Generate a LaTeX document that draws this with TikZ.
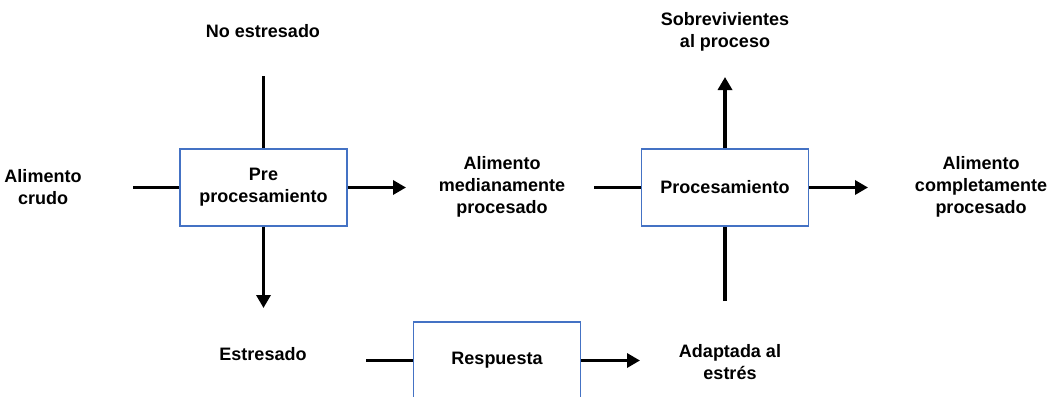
\documentclass[tikz,border=0pt]{standalone}
\usepackage{fontspec}
\setmainfont{Liberation Sans}
\usetikzlibrary{positioning,arrows.meta}
\definecolor{boxblue}{RGB}{68,114,196}

\begin{document}
\begin{tikzpicture}[x=1pt,y=-1pt,
    box/.style={draw=boxblue,line width=1.3pt,minimum width=167pt,minimum height=77pt,inner sep=2pt,align=center,font=\fontsize{18}{22}\selectfont\bfseries},
    lbl/.style={align=center,inner sep=1pt,font=\fontsize{18}{22}\selectfont\bfseries},
    flow/.style={line width=3.8pt},
    arr/.style={flow,-{Triangle[length=13pt,width=14pt]}}]
      \clip (0,0) rectangle (1051,396);
      \node[box](pre) at (263.5,187.5){Pre\\procesamiento};
      \node[box](proc) at (725,187.5){Procesamiento};
      \node[box](resp) at (497,360.5){Respuesta};
      \node[lbl](crudo) at (43,187){Alimento\\crudo};
      \node[lbl](noestr) at (263,31){No estresado};
      \node[lbl](estr) at (263,354){Estresado};
      \node[lbl](medio) at (502,187){Alimento\\medianamente\\procesado};
      \node[lbl](sobrev) at (725,32){Sobrevivientes\\al proceso};
      \node[lbl](completo) at (981,187){Alimento\\completamente\\procesado};
      \node[lbl](adapt) at (730,362){Adaptada al\\estrés};
      \coordinate (crudo-out) at (133,187.5);
      \coordinate (medio-in) at (406,187.5);
      \coordinate (noestr-out) at (263.5,76);
      \coordinate (estr-in) at (263.5,308);
      \coordinate (medio-out) at (594,187.5);
      \coordinate (sobrev-in) at (725,77);
      \coordinate (completo-in) at (868,187.5);
      \coordinate (adapt-out) at (725,301);
      \coordinate (estr-out) at (366,360.5);
      \coordinate (adapt-in) at (640,360.5);
      \draw[flow] (crudo-out) -- (pre.west);
      \draw[arr] (pre.east) -- (medio-in);
      \draw[flow] (noestr-out) -- (pre.north);
      \draw[arr] (pre.south) -- (estr-in);
      \draw[flow] (medio-out) -- (proc.west);
      \draw[arr] (proc.north) -- (sobrev-in);
      \draw[arr] (proc.east) -- (completo-in);
      \draw[flow] (adapt-out) -- (proc.south);
      \draw[flow] (estr-out) -- (resp.west);
      \draw[arr] (resp.east) -- (adapt-in);
    \end{tikzpicture}
\end{document}
